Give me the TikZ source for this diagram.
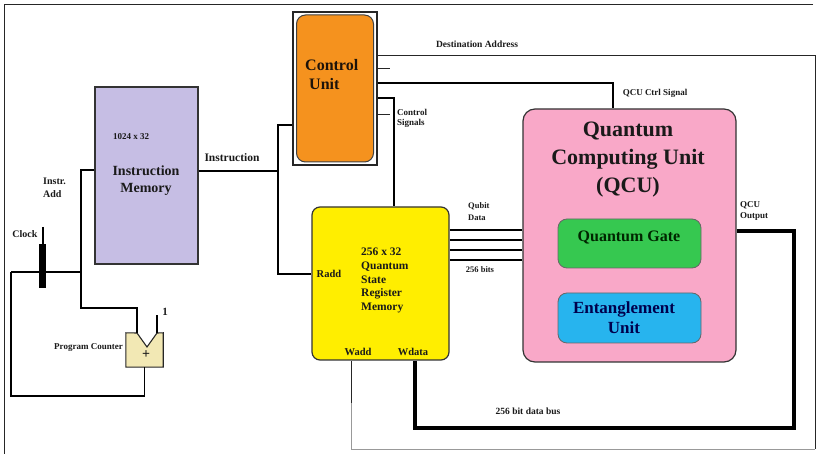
\documentclass[tikz,border=0pt]{standalone}
\usepackage{fontspec}
\setmainfont{Liberation Serif}
\newcommand{\myfs}[2]{\fontsize{#1}{#2}\selectfont}
\definecolor{imcol}{HTML}{C6BEE4}
\definecolor{cucol}{HTML}{F5921E}
\definecolor{qsrcol}{HTML}{FFEE00}
\definecolor{qcucol}{HTML}{F9A8C8}
\definecolor{qgcol}{HTML}{36C850}
\definecolor{eucol}{HTML}{27B4EE}
\definecolor{pccol}{HTML}{F2E8B4}
\definecolor{txtcol}{HTML}{1A1A1A}
\begin{document}
\begin{tikzpicture}[x=1pt,y=-1pt,
  wire/.style={line width=1.2pt, draw=black},
  thinwire/.style={line width=0.9pt, draw=black!85},
  greywire/.style={line width=0.9pt, draw=black!40},
  qline/.style={line width=1.8pt, draw=black},
  databus/.style={line width=3.8pt, draw=black},
  lbl/.style={font=\bfseries, inner sep=0pt, text=txtcol},
  box/.style={draw=black!80, line width=1.2pt, inner sep=0pt}
]
\useasboundingbox (0,0) rectangle (820,454);
\fill[white] (0,0) rectangle (820,454);
% frame
\coordinate (f1) at (813,5);
\coordinate (f2) at (4,5);
\coordinate (f3) at (4,454);
\draw[line width=1pt, draw=black!85] (f1) -- (f2) -- (f3);

% nodes
\node[box, fill=imcol, minimum width=103pt, minimum height=177pt] (im) at (146.5,175.5) {};
\node[draw=black!85, line width=1.2pt, fill=white, inner sep=0pt, minimum width=84pt, minimum height=153pt] (cuo) at (335,88.5) {};
\node[draw=black!75, line width=1pt, fill=cucol, rounded corners=9pt, inner sep=0pt, minimum width=77pt, minimum height=147pt] (cu) at (335,88.5) {};
\node[box, fill=qsrcol, rounded corners=8pt, minimum width=137pt, minimum height=153pt] (qsr) at (380.5,283.5) {};
\node[box, fill=qcucol, rounded corners=12pt, minimum width=213pt, minimum height=253pt] (qcu) at (629.5,235.5) {};
\node[draw=black!60, line width=0.8pt, fill=qgcol, rounded corners=9pt, inner sep=0pt, minimum width=143pt, minimum height=49pt] (qg) at (629.5,243.5) {};
\node[draw=black!60, line width=0.8pt, fill=eucol, rounded corners=9pt, inner sep=0pt, minimum width=143pt, minimum height=50pt] (eu) at (629.5,318) {};
\node[fill=black, inner sep=0pt, minimum width=7pt, minimum height=44pt] (clk) at (42.5,266) {};
\node[inner sep=0pt, minimum width=37pt, minimum height=34pt] (pc) at (144.5,350) {};
\coordinate (pn1) at (137,333);
\coordinate (pn2) at (147,347);
\coordinate (pn3) at (157,333);
\draw[line width=1.1pt, draw=black!85, fill=pccol] (pc.north west) -- (pn1) -- (pn2) -- (pn3) -- (pc.north east) -- (pc.south east) -- (pc.south west) -- cycle;

% texts
\node[lbl, font=\bfseries\myfs{9}{10}] (t1024) at (131,137) {1024 x 32};
\node[lbl, font=\bfseries\myfs{14}{17}, align=center] (tim) at (146,181) {Instruction\\Memory};
\node[lbl, font=\bfseries\myfs{16}{19}, align=left, text=black!85!brown, anchor=west] (tcu) at (305,74.5) {Control\\\hspace*{4pt}Unit};
\node[lbl, font=\bfseries\myfs{11.5}{13.7}, align=left, anchor=west] (tqsr) at (361,280.5) {256 x 32\\Quantum\\State\\Register\\Memory};
\node[lbl, font=\bfseries\myfs{22}{28}, align=center] (tqcu) at (628,160) {Quantum\\Computing Unit\\(QCU)};
\node[lbl, font=\bfseries\myfs{16}{19}, text=black!85!green] (tqg) at (629,238) {Quantum Gate};
\node[lbl, font=\bfseries\myfs{17}{20}, align=center, text=black!70!blue] (teu) at (624,318) {Entanglement\\Unit};
\node[lbl, font=\bfseries\myfs{9.5}{11}] (tda) at (477,44) {Destination Address};
\node[lbl, font=\bfseries\myfs{9}{10}] (tqcs) at (655,93) {QCU Ctrl Signal};
\node[lbl, font=\bfseries\myfs{9}{10}, align=left, anchor=west] (tcs) at (397,118) {Control\\Signals};
\node[lbl, font=\bfseries\myfs{11.5}{13}] (tins) at (232,158) {Instruction};
\node[lbl, font=\bfseries\myfs{10}{13}, align=left, anchor=west] (tia) at (43,187.5) {Instr.\\Add};
\node[lbl, font=\bfseries\myfs{10}{12}] (tclk) at (25,234) {Clock};
\node[lbl, font=\bfseries\myfs{9}{10}, anchor=east] (tpc) at (123,348) {Program Counter};
\node[lbl, font=\bfseries\myfs{11}{12}] (tone) at (165,312) {1};
\node[lbl, font=\bfseries\myfs{14}{14}] (tplus) at (146,355) {+};
\node[lbl, font=\bfseries\myfs{10.5}{12}] (tradd) at (329,274) {Radd};
\node[lbl, font=\bfseries\myfs{10.5}{12}] (twadd) at (358,352) {Wadd};
\node[lbl, font=\bfseries\myfs{10.5}{12}] (twdata) at (413,352) {Wdata};
\node[lbl, font=\bfseries\myfs{8.5}{12}, align=left, anchor=west] (tqd) at (468,211.5) {Qubit\\Data};
\node[lbl, font=\bfseries\myfs{8.5}{10}] (t256) at (480,270) {256 bits};
\node[lbl, font=\bfseries\myfs{9}{11}, align=left, anchor=west] (tqo) at (740,210.5) {QCU\\Output};
\node[lbl, font=\bfseries\myfs{9.5}{11}] (tbus) at (528,411) {256 bit data bus};

% instruction bus
\coordinate (ibus) at (278,171);
\coordinate (ctop) at (278,125);
\coordinate (cbot) at (278,274);
\draw[wire] (ibus -| im.east) -- (ibus);
\draw[wire] (ctop -| cuo.west) -- (ctop) -- (cbot) -- (cbot -| qsr.west);

% destination address loop
\coordinate (da1) at (815,55);
\coordinate (da2) at (815,449);
\coordinate (da3) at (351,449);
\coordinate (wadd) at (351,403);
\draw[thinwire] (da1 -| cuo.east) -- (da1) -- (da2);
\draw[greywire] (da2) -- (da3) -- (wadd);
\draw[thinwire] (wadd) -- (wadd |- qsr.south);

% stubs
\coordinate (s1) at (390,68);
\coordinate (s2) at (390,114);
\draw[thinwire] (s1 -| cuo.east) -- (s1);
\draw[thinwire] (s2 -| cuo.east) -- (s2);

% QCU ctrl signal
\coordinate (qc) at (613,83);
\draw[wire] (qc -| cuo.east) -- (qc) -- (qc |- qcu.north);

% control signals
\coordinate (cs) at (394,98);
\draw[wire] (cs -| cuo.east) -- (cs) -- (cs |- qsr.north);

% qubit data lines
\foreach \yy in {230,240,250,260}{
  \coordinate (q\yy) at (480,\yy);
  \draw[qline] (q\yy -| qsr.east) -- (q\yy -| qcu.west);
}

% QCU output data bus
\coordinate (o1) at (794,231);
\coordinate (o2) at (794,428);
\coordinate (o3) at (415,428);
\draw[databus] (o1 -| qcu.east) -- (o1) -- (o2) -- (o3) -- (o3 |- qsr.south);

% clock and program counter
\coordinate (ck) at (43,227);
\draw[wire] (ck) -- (ck |- clk.north);
\coordinate (ia1) at (81,170);
\coordinate (ia2) at (81,308);
\coordinate (jn) at (81,272);
\coordinate (lt) at (11,272);
\coordinate (lp) at (11,396);
\draw[wire] (ia1 -| im.west) -- (ia1) -- (ia2) -| (pn1);
\draw[wire] (lt) -- (jn);
\draw[wire] (pc.south) |- (lp) -- (lt);
\coordinate (one) at (157,315);
\draw[wire] (pn3) -- (one);
\end{tikzpicture}
\end{document}
